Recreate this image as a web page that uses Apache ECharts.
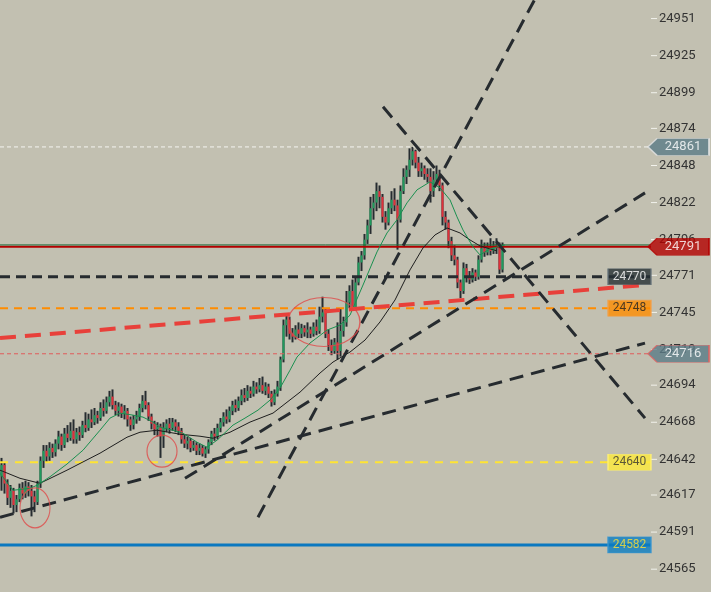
<!DOCTYPE html>
<html><head><meta charset="utf-8">
<script src="https://cdn.jsdelivr.net/npm/echarts@6/dist/echarts.min.js"></script>
<style>html,body{margin:0;padding:0;background:#c2c0b1;}#c{width:711px;height:592px;}</style>
</head><body><div id="c"></div>
<script>
// ---- candles (price) ----
const opens=[24630,24638,24625,24615,24620,24610,24614,24622,24618,24623,24620,24616,24612,24625,24641,24648,24644,24650,24647,24653,24658,24652,24660,24657,24662,24656,24661,24659,24666,24664,24670,24668,24673,24671,24678,24676,24682,24686,24680,24676,24679,24674,24676,24670,24666,24670,24672,24678,24683,24680,24672,24667,24663,24665,24658,24664,24667,24664,24668,24665,24662,24656,24653,24655,24650,24652,24648,24650,24646,24649,24654,24660,24658,24664,24668,24672,24670,24676,24680,24678,24683,24687,24685,24690,24688,24693,24691,24694,24690,24693,24688,24682,24688,24693,24712,24736,24740,24730,24728,24733,24730,24734,24731,24733,24730,24735,24732,24742,24745,24730,24722,24718,24724,24718,24732,24738,24752,24760,24748,24766,24780,24785,24796,24806,24818,24822,24830,24826,24812,24808,24818,24824,24820,24810,24830,24840,24845,24852,24858,24850,24844,24846,24842,24840,24830,24838,24842,24834,24812,24808,24795,24785,24782,24766,24760,24776,24770,24768,24773,24770,24782,24790,24787,24791,24788,24792,24790,24775];
const closes=[24638,24625,24615,24620,24610,24614,24622,24618,24623,24620,24616,24612,24625,24641,24648,24644,24650,24647,24653,24658,24652,24660,24657,24662,24656,24661,24659,24666,24664,24670,24668,24673,24671,24678,24676,24682,24686,24680,24676,24679,24674,24676,24670,24666,24670,24672,24678,24683,24680,24672,24667,24663,24665,24658,24664,24667,24664,24668,24665,24662,24656,24653,24655,24650,24652,24648,24650,24646,24649,24654,24660,24658,24664,24668,24672,24670,24676,24680,24678,24683,24687,24685,24690,24688,24693,24691,24694,24690,24693,24688,24682,24688,24693,24712,24736,24740,24730,24728,24733,24730,24734,24731,24733,24730,24735,24732,24742,24745,24730,24722,24718,24724,24718,24732,24738,24752,24760,24748,24766,24780,24785,24796,24806,24818,24822,24830,24826,24812,24808,24818,24824,24820,24810,24830,24840,24845,24852,24858,24850,24844,24846,24842,24840,24830,24838,24842,24834,24812,24808,24795,24785,24782,24766,24760,24776,24770,24768,24773,24770,24782,24790,24787,24791,24788,24792,24790,24775,24791];
const highs=[24643,24640,24628,24624,24622,24617,24625,24626,24627,24626,24624,24620,24627,24644,24652,24652,24654,24653,24656,24662,24660,24664,24666,24668,24670,24664,24665,24669,24675,24674,24677,24678,24676,24682,24684,24686,24690,24691,24683,24682,24681,24680,24678,24672,24673,24676,24681,24687,24690,24682,24674,24669,24668,24667,24668,24670,24671,24671,24670,24668,24664,24659,24658,24657,24655,24654,24653,24652,24651,24656,24662,24664,24667,24671,24675,24677,24679,24683,24684,24686,24691,24692,24694,24693,24697,24696,24699,24700,24696,24695,24690,24691,24697,24714,24740,24743,24742,24734,24736,24738,24737,24736,24738,24735,24738,24740,24749,24756,24748,24733,24726,24727,24738,24748,24742,24760,24764,24768,24770,24784,24788,24800,24810,24826,24828,24836,24834,24828,24816,24822,24830,24832,24824,24834,24846,24848,24860,24861,24859,24854,24850,24848,24846,24846,24844,24848,24845,24836,24816,24810,24798,24792,24784,24768,24780,24779,24774,24776,24775,24785,24796,24794,24794,24797,24795,24797,24794,24794];
const lows=[24620,24618,24610,24608,24604,24605,24612,24614,24615,24616,24602,24605,24610,24622,24636,24640,24641,24643,24644,24649,24648,24650,24654,24655,24653,24653,24655,24657,24661,24662,24664,24666,24667,24669,24672,24674,24679,24677,24673,24672,24671,24670,24665,24662,24663,24667,24669,24675,24677,24669,24663,24659,24658,24643,24650,24661,24660,24662,24661,24659,24653,24650,24649,24647,24648,24645,24645,24644,24643,24646,24652,24655,24656,24661,24665,24667,24668,24673,24675,24676,24680,24682,24683,24685,24686,24688,24689,24688,24687,24685,24679,24680,24686,24690,24710,24728,24726,24724,24726,24727,24727,24728,24727,24727,24728,24729,24730,24738,24727,24718,24715,24716,24712,24714,24728,24735,24748,24746,24746,24764,24774,24782,24793,24800,24810,24816,24818,24808,24803,24806,24814,24816,24789,24808,24828,24835,24840,24848,24846,24840,24840,24838,24836,24822,24826,24834,24830,24806,24803,24790,24781,24778,24762,24755,24758,24766,24765,24766,24767,24768,24780,24784,24785,24785,24786,24786,24772,24773];

// ---- moving averages (x in candle units, price) ----
const maFastX=[0,4.33,10,12.33,16.67,22.33,27.67,33.33,36.67,40,44.33,47.67,51,53.33,57.67,61,65.67,69,72.33,77.67,81.67,86,90,93.33,96.67,99,103.33,109,113.33,116.67,121,125.67,129,132.33,135.67,139,143.33,146.67,150,152.33,154.33,157.67,160,163.33,168.33];
const maFastY=[24632.3,24620.3,24621.7,24623.8,24629.8,24638.7,24648.4,24662.4,24670.9,24674.4,24673.0,24671.6,24668.1,24664.5,24662.4,24660.3,24654.0,24650.5,24655.4,24666.0,24670.9,24676.5,24683.5,24691.9,24704.5,24713.7,24723.5,24732.6,24736.1,24743.1,24764.2,24787.4,24800.7,24809.9,24821.8,24830.9,24836.5,24832.3,24823.9,24812.0,24802.8,24790.9,24785.3,24789.5,24792.3];
const maSlowX=[0,6.67,13.33,22.33,33.33,42.33,46.67,52.33,60,66.67,71,76.67,83.33,91,100,106.67,111,116.67,121.67,126.67,131.67,136.67,141,145,149,153.33,156.67,160,165.67];
const maSlowY=[24634.4,24628.7,24625.2,24634.4,24646.3,24657.5,24661.0,24662.4,24659.6,24658.2,24656.8,24661.0,24668.1,24674.4,24689.1,24702.5,24710.2,24717.2,24725.6,24738.3,24753.7,24774.8,24790.2,24799.3,24804.2,24800.7,24795.8,24791.6,24788.1];

// ---- drawn trend lines ----
const trendAX=[0,215], trendAY=[24601.4,24723.5];
const trendBX=[61.67,215], trendBY=[24628.7,24828.8];
const trendCX=[86,180], trendCY=[24601.4,24971.3];
const trendDX=[127.67,215], trendDY=[24889.2,24670.9];
const trendRedX=[0,215], trendRedY=[24727.0,24764.2];

// ---- horizontal levels ----
const levelHigh=24861, levelBid=24791, levelAsk=24792.3, levelBlack=24770, levelOrange=24748, levelRed=24716, levelYellow=24640, levelBlue=24582;

// ---- circles (x in candle units, price) ----
const circleX=[11.67,54,108], circleY=[24608,24647.7,24738.3];

// ---- axis ticks ----
const priceTicks=[24565,24591,24617,24642,24668,24694,24719,24745,24771,24796,24822,24848,24874,24899,24925,24951];

const XMAX=217;
const GREEN='#1f9a5c', RED='#e0303a', WICK='#262c30';

const candleData=opens.map((o,i)=>[i+0.5,o,closes[i],lows[i],highs[i]]);
function renderCandle(params,api){
  const x=api.value(0),o=api.value(1),c=api.value(2),l=api.value(3),h=api.value(4);
  const pO=api.coord([x,o]),pC=api.coord([x,c]),pL=api.coord([x,l]),pH=api.coord([x,h]);
  const top=Math.min(pO[1],pC[1]),hgt=Math.max(1,Math.abs(pO[1]-pC[1]));
  return {type:'group',children:[
    {type:'line',shape:{x1:pH[0],y1:pH[1],x2:pL[0],y2:pL[1]},style:{stroke:WICK,lineWidth:2}},
    {type:'rect',shape:{x:pO[0]-1,y:top,width:2,height:hgt},style:{fill:c>=o?GREEN:RED}}
  ]};
}
function pairs(xs,ys){return xs.map((x,i)=>[x,ys[i]]);}
function hline(p,style){return {type:'line',data:[[0,p],[XMAX,p]],symbol:'none',silent:true,lineStyle:style,z:5};}
function tline(xs,ys,style){return {type:'line',data:pairs(xs,ys),symbol:'none',silent:true,lineStyle:style,z:6};}

const dashBlack={color:'#262b2f',width:3,type:[14,8]};
const arrowPath='path://M0,8L9,0L61,0L61,16L9,16Z';
const boxCenter=(608+651)/2/3;
function arrowBox(p,bg,border,txt){
  return {value:[XMAX,p],symbol:arrowPath,symbolSize:[61,17],symbolOffset:[27.5,0],
    itemStyle:{color:bg,borderColor:border,borderWidth:1},
    label:{show:true,position:'inside',offset:[4.5,0],color:txt,fontSize:13,fontFamily:'Roboto',formatter:String(p)}};
}
function rectBox(p,bg,border,txt){
  return {value:[boxCenter,p],symbol:'rect',symbolSize:[43,16],
    itemStyle:{color:bg,borderColor:border,borderWidth:1},
    label:{show:true,position:'inside',color:txt,fontSize:12,fontFamily:'Roboto',formatter:String(p)}};
}

const chart=echarts.init(document.getElementById('c'),null,{renderer:'canvas'});
chart.setOption({
  backgroundColor:'#c2c0b1',
  animation:false,
  grid:{left:0,right:60,top:0,bottom:0,containLabel:false},
  xAxis:{type:'value',min:0,max:XMAX,show:false},
  yAxis:{type:'value',position:'right',min:24549,max:24964,scale:true,
    splitLine:{show:false},axisLine:{show:false},axisTick:{show:false},
    axisLabel:{customValues:priceTicks,margin:0,formatter:v=>'{t|}{n|'+Math.round(v)+'}',
      rich:{t:{width:6,height:1,backgroundColor:'#f2f2ec',verticalAlign:'middle'},
            n:{color:'#333',fontSize:13,fontFamily:'Roboto',padding:[0,0,0,2],verticalAlign:'middle'}}}},
  series:[
    hline(levelBlue,{color:'#0a78c0',width:3,type:'solid'}),
    hline(levelYellow,{color:'#ffe433',width:2,type:[8,7]}),
    hline(levelRed,{color:'#e05a5a',width:1,type:[4,3]}),
    hline(levelHigh,{color:'#f4f4f0',width:1,type:[4,3]}),
    hline(levelOrange,{color:'#ff8c00',width:2,type:[8,6]}),
    {type:'custom',renderItem:renderCandle,data:candleData,encode:{x:0,y:[1,2,3,4]},z:3,silent:true},
    tline(maSlowX,maSlowY,{color:'#1e1e1e',width:1}),
    tline(maFastX,maFastY,{color:'#1a9050',width:1}),
    hline(levelBlack,{color:'#262b2f',width:3,type:[10,6]}),
    hline(levelBid,{color:'#b30000',width:2,type:'solid'}),
    hline(levelAsk,{color:'#1d6b3a',width:1,type:'solid'}),
    tline(trendRedX,trendRedY,{color:'#e8403a',width:4,type:[16,9]}),
    tline(trendAX,trendAY,dashBlack),
    tline(trendBX,trendBY,dashBlack),
    tline(trendCX,trendCY,dashBlack),
    tline(trendDX,trendDY,dashBlack),
    {type:'scatter',silent:true,z:7,data:pairs(circleX,circleY).map((d,i)=>({value:d,symbolSize:[[30,40],[30,32],[72,49]][i]})),
      symbol:'circle',itemStyle:{color:'rgba(0,0,0,0)',borderColor:'#e04848',borderWidth:1.2}},
    {type:'scatter',silent:true,clip:false,z:20,data:[
      arrowBox(levelHigh,'#5a7a87','#e6e6e6','#ffffff'),
      arrowBox(levelBid,'#b30000','#b30000','#ffffff'),
      arrowBox(levelRed,'#5a7a87','#e06060','#ffffff'),
      rectBox(levelBlack,'#263035','#66737a','#ffffff'),
      rectBox(levelOrange,'#ff8c00','#f3a04a','#222222'),
      rectBox(levelYellow,'#ffeb3b','#fff176','#333333'),
      rectBox(levelBlue,'#0a7cc2','#3a96d0','#ffe033')
    ]}
  ]
});
</script></body></html>
